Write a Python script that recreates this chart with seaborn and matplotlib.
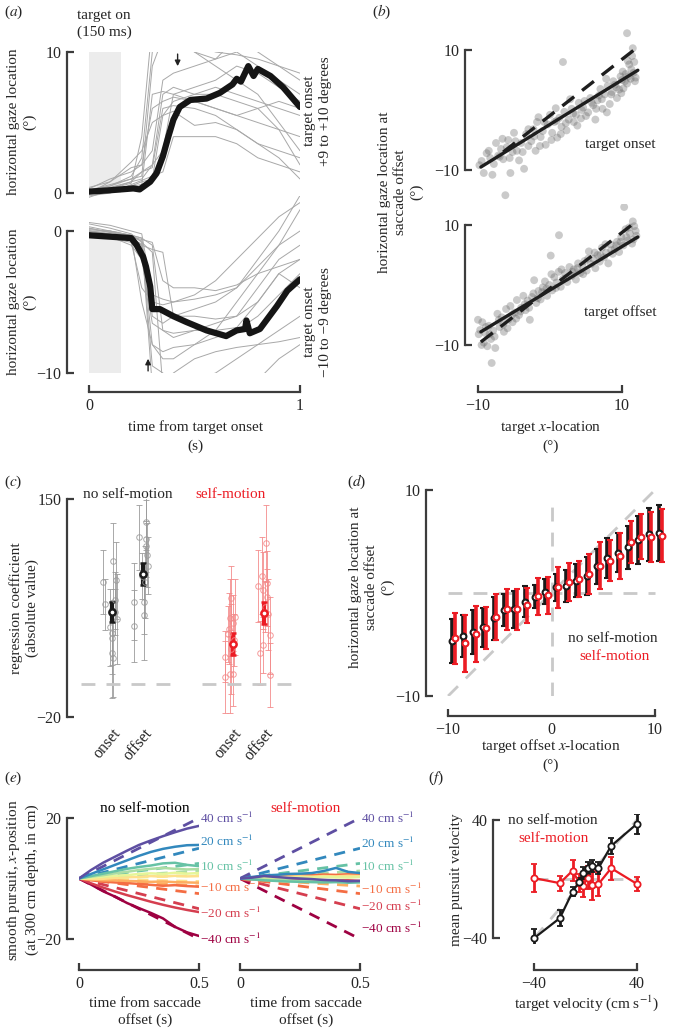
import numpy as np
import pandas as pd
import matplotlib.pyplot as plt
import seaborn as sns

sns.set_style("ticks")
plt.rcParams['font.family'] = ['Liberation Serif', 'DejaVu Serif']
plt.rcParams['mathtext.fontset'] = 'stix'
plt.rcParams['font.size'] = 11

# ---------------- data ----------------
# (a) gaze traces, times in s
t_grid = [0, 0.1, 0.2, 0.25, 0.3, 0.35, 0.4, 0.5, 0.6, 0.7, 0.8, 0.9, 1.0]
up_traces = [
    [0.2, 0.5, 1.0, 1.2, 9, 11, 11, 10, 9, 8, 7, 5, 3],
    [0, 0.3, 0.8, 1.5, 2, 7, 7.5, 7, 7, 6.5, 6, 4.5, 2],
    [-0.3, 0.2, 0.5, 0.8, 1, 5.5, 5.8, 4.8, 5, 4.5, 3.5, 2.5, 1],
    [0.3, 1, 1.5, 2, 6, 6.5, 6.8, 6.5, 6, 5.5, 6, 6.5, 6],
    [0, 0.4, 0.8, 1, 2, 3, 7, 7.5, 8, 9, 8.5, 7.5, 6.5],
    [0.1, 0.5, 1.2, 2.5, 10, 12, 11, 10, 9.5, 10, 9, 8, 7],
    [-0.2, 0, 0.6, 0.9, 1.2, 1.5, 4, 4, 4, 3.5, 2.5, 2, 1.5],
    [0.4, 0.8, 1.8, 2, 3, 8, 8.5, 9, 9.5, 11, 10, 9, 8],
    [0, 0.2, 0.5, 0.6, 7, 7.2, 7, 6.5, 6, 5.5, 5, 4.5, 4],
    [0.2, 0.6, 1, 1.5, 1.8, 6, 6.2, 6, 5.5, 4.5, 3.5, 3, 2.5],
    [0, 0.8, 2.2, 3, 5, 5.5, 6.5, 7, 7.5, 7, 6.5, 6, 5.5],
    [0.1, 0.3, 0.7, 4, 12, 12, 11, 10.5, 10, 9.8, 9.5, 9, 8.5],
]
lo_traces = [
    [0, -0.2, -0.5, -1, -8, -9, -9, -8, -7, -5, -3, -1, 1.5],
    [0.3, 0, -0.3, -0.5, -6, -6.5, -6, -5.5, -5, -4, -2, 0, 2.5],
    [0.5, 0.2, -0.2, -0.8, -1.5, -11, -11, -10.5, -10, -9, -8, -7, -6],
    [-0.2, -0.5, -0.8, -4, -5, -5.2, -5, -4.8, -4.5, -4, -2.5, -1, 0],
    [0, 0, -0.3, -0.5, -1, -7, -7.5, -7, -6.5, -6, -4, -2, -1],
    [0.2, -0.1, -0.4, -0.7, -11, -11, -10, -9, -8.5, -8.2, -8, -7.8, -7.5],
    [0, -0.3, -0.7, -1, -1.3, -1.5, -6, -6, -6.2, -6, -5, -3, -2],
    [0.6, 0.4, 0, -0.2, -4.5, -4.8, -5, -4.5, -3.5, -2, -0.5, 1, 2],
    [0, -0.2, -0.6, -0.9, -9.5, -10, -11, -11, -11, -11, -10.5, -9, -8],
    [-0.1, -0.4, -1, -2, -6.5, -7, -7.2, -7, -7, -6.8, -5, -3, -4],
    [0.1, 0, -0.4, -0.6, -0.8, -3.5, -4, -4, -4.2, -3.8, -3, -2.5, -2],
    [0.2, -0.1, -0.3, -5, -8, -8.5, -8.2, -8, -7.5, -7, -6, -4.5, -3],
]
mean_up_t = [0, 0.1, 0.21, 0.24, 0.29, 0.32, 0.35, 0.376, 0.4, 0.43, 0.48, 0.557, 0.62,
             0.68, 0.7, 0.72, 0.755, 0.78, 0.8, 0.86, 0.92, 1.0]
mean_up_y = [0.1, 0.2, 0.33, 0.26, 0.8, 1.4, 2.6, 4.0, 5.2, 6.1, 6.6, 6.7, 7.1,
             7.7, 8.1, 7.9, 9.0, 8.3, 8.8, 8.3, 7.5, 6.1]
mean_lo_t = [0, 0.1, 0.2, 0.225, 0.256, 0.27, 0.29, 0.3, 0.336, 0.4, 0.46, 0.557, 0.65,
             0.7, 0.74, 0.746, 0.762, 0.81, 0.89, 0.94, 1.0]
mean_lo_y = [-0.3, -0.4, -0.5, -0.97, -1.8, -2.5, -3.9, -5.5, -5.5, -6.0, -6.4, -7.0, -7.4,
             -7.0, -6.9, -6.3, -7.2, -6.9, -5.3, -4.2, -3.4]

# (b) saccade landing vs target location
on_x = [-9.5, -9.2, -8.8, -8.5, -8.0, -7.8, -7.5, -7.2, -6.8, -6.5, -6.2, -6.0, -5.8, -5.5, -5.2,
        -5.0, -4.6, -4.3, -4.0, -3.6, -3.3, -3.0, -2.6, -2.3, -2.0, -1.6, -1.3, -1.0, -0.6, -0.3,
        0.0, 0.3, 0.6, 1.0, 1.3, 1.6, 2.0, 2.3, 2.6, 3.0, 3.3, 3.6, 4.0, 4.3, 4.6, 1.8, 5.3, 5.6,
        6.0, 6.3, 6.6, 7.0, 7.3, 7.6, 8.0, 8.3, 8.6, 9.0, 9.3, 9.6, 10.0, 10.2, 10.5, 10.7, 11.0,
        11.2, 11.4, 11.6, 11.8, 10.7, 11.5, 10.8, 9.8, 8.8, 7.8, 6.8, 4.8, 2.8, 0.8, -1.8,
        -9.8, -8.3, -7.0, -6.6, -5.6, -4.8, -3.8, -3.0, -2.2, -1.4, -0.8, 0.2, 0.9, 1.5, 2.2,
        3.2, 3.8, 4.4, 5.0, 5.8, 6.4, 7.2, 7.9, 8.5, 9.2, 9.9, 10.4, 10.9, 11.3, 11.7, 11.9, 10.1]
on_y = [-8.5, -10.5, -7.2, -6.8, -10.8, -9.0, -5.5, -7.6, -6.5, -8.2, -14.2, -6.2, -5.0, -10.5,
        -7.0, -3.8, -6.8, -8.4, -5.5, -9.8, -4.0, -6.0, -5.2, -3.2, -6.8, -1.2, -4.5, -3.5, -5.8,
        -2.4, -0.8, -3.8, -2.0, -4.6, -1.3, -2.8, -0.3, -3.4, -1.6, 0.2, -2.0, -0.8, 1.2, -1.4,
        0.4, 8.0, -0.4, 2.0, 0.8, -1.6, 1.6, 3.5, 0.2, 2.6, 4.0, 1.0, 3.0, 4.2, 2.0, 3.4, 5.0,
        3.6, 6.0, 4.4, 7.6, 5.2, 9.0, 6.2, 4.8, 12.8, 10.3, 8.2, 5.6, 4.8, 5.2, 2.4, 1.5, 1.8,
        0.3, -2.0,
        -9.2, -8.0, -7.8, -4.8, -8.0, -5.2, -7.0, -3.2, -4.4, -6.0, -2.0, -5.0, -1.8, -4.0, -2.2,
        -0.6, -2.6, 0.0, -1.0, 1.2, 0.2, 1.8, -0.4, 2.6, 3.8, 2.8, 4.8, 5.6, 6.8, 8.0, 5.4, 6.4]
off_x = [-10.0, -9.7, -9.4, -9.2, -9.0, -8.7, -8.5, -8.2, -8.1, -7.9, -7.6, -7.3, -7.0, -6.7,
         -6.4, -6.1, -5.8, -5.5, -5.2, -4.9, -4.6, -4.3, -4.0, -3.7, -3.4, -3.1, -2.8, -2.5, -2.2,
         -1.9, -1.6, -1.3, -1.0, -0.7, -0.4, -0.1, 0.1, 0.3, 0.6, 0.9, 1.25, 1.2, 1.5, 1.8, 2.1,
         2.4, 2.7, 3.0, 3.3, 3.6, 3.9, 4.2, 4.5, 4.8, 5.1, 5.4, 5.7, 6.0, 6.3, 6.6, 6.9, 7.2, 7.5,
         7.8, 8.1, 8.4, 8.7, 9.0, 9.3, 9.6, 9.9, 10.2, 10.3, 10.5, 10.8, 11.1, 11.4, 11.7, 12.0, 11.5,
         -9.9, -9.5, -8.9, -8.4, -7.7, -7.1, -6.5, -5.9, -5.3, -4.7, -4.1, -3.5, -2.9, -2.3, -1.7,
         -1.1, -0.5, 0.2, 0.8, 1.6, 2.3, 3.1, 3.8, 4.6, 5.3, 6.2, 7.0, 7.7, 8.5, 9.2, 9.8, 10.6,
         11.0, 11.6, 11.9]
off_y = [-5.8, -7.5, -6.2, -9.6, -8.0, -10.2, -6.8, -9.0, -13.0, -7.6, -10.5, -4.8, -7.0, -5.4,
         -7.8, -4.0, -5.8, -3.5, -6.2, -4.6, -2.5, -5.0, -3.8, -1.8, -4.2, -2.6, -5.8, -2.0, 0.8,
         -3.0, -1.0, -2.4, -0.4, 0.6, -1.8, 0.0, 4.9, -0.9, 1.3, 0.4, 8.3, 2.2, -0.3, 1.0, 2.0,
         0.5, 3.0, 1.5, 2.6, 0.9, 3.6, 2.0, 3.2, 4.0, 2.4, 5.6, 3.5, 4.4, 2.8, 5.0, 3.9, 6.2, 4.6,
         5.4, 3.6, 6.8, 5.2, 6.0, 7.2, 5.5, 8.0, 6.6, 13.0, 9.3, 7.4, 8.6, 6.9, 9.8, 8.2, 10.6,
         -8.2, -10.0, -7.0, -8.2, -8.6, -5.8, -6.6, -7.2, -5.0, -5.6, -4.4, -3.2, -3.8, -1.4, -2.2,
         -1.2, -0.6, 1.8, -0.5, 2.6, 1.2, 2.2, 2.8, 1.8, 4.4, 5.4, 5.0, 6.8, 5.8, 6.6, 7.2, 8.0,
         9.6, 7.6, 9.0]
# fit lines: (slope, intercept, x start, x end)
on_fit = (0.74, -2.4, -9.6, 12.2)
on_dash = (0.936, -0.92, -6.5, 12.2)
off_fit = (0.725, -0.84, -9.6, 12.2)
off_dash = (0.931, -0.56, -9.6, 12.2)

# (c) regression coefficients per subject: (jitter, value, error)
c_pos = [0, 1, 3.9, 4.9]
c_labels = ['onset', 'offset', 'onset', 'offset']
c_subj = [
    [(-0.28, 85.5, 25), (-0.22, 68, 20), (0.02, 101.6, 30), (0.13, 86.8, 30), (0.1, 71, 22),
     (0.17, 56.4, 35), (-0.01, 45.5, 25), (0.0, 41.6, 28), (0.01, 30, 35), (0.02, 25.8, 30),
     (0.08, 62, 18), (-0.05, 50, 30)],
    [(-0.12, 120, 25), (0.08, 132, 22), (0.08, 119, 30), (0.17, 98, 22), (0.12, 106, 25),
     (-0.28, 70, 30), (-0.28, 51, 28), (0.04, 70, 25), (0.04, 59.5, 35), (0.06, 85, 28),
     (0.1, 113, 20), (-0.02, 90, 18)],
    [(-0.07, 72.6, 25), (-0.1, 57.4, 30), (0.0, 53.5, 22), (-0.26, 27, 20), (-0.26, 11.4, 28),
     (-0.1, 13.5, 30), (0.01, 13.5, 25), (-0.17, 44.7, 22), (0.03, 40, 20), (-0.05, 33, 35),
     (0.05, 58, 30), (-0.12, 49, 28)],
    [(0.06, 115.4, 30), (-0.04, 79, 30), (-0.18, 82, 28), (0.1, 84.7, 25), (0.08, 73.3, 22),
     (0.19, 43.9, 30), (-0.13, 30.1, 25), (-0.04, 36.1, 22), (0.19, 12.8, 25), (0.12, 60, 28),
     (-0.08, 90, 30), (0.02, 66, 20)],
]
c_mean = [62, 91.5, 37, 61]
c_err = [8, 8.5, 8.5, 8.5]
c_chance = 6

# (d) binned gaze location
d_bins = [-9.6, -8.6, -7.6, -6.6, -5.6, -4.6, -3.6, -2.6, -1.6, -0.6, 0.4,
          1.4, 2.4, 3.4, 4.4, 5.4, 6.4, 7.4, 8.4, 9.4, 10.4]
d_black = [-4.63, -4.17, -3.79, -3.33, -2.46, -1.65, -1.59, -0.84, -0.36, 0.13, 0.55,
           0.71, 1.2, 1.65, 2.62, 3.43, 3.92, 4.43, 5.15, 5.7, 5.8]
d_black_err = [2.15, 2.02, 2.14, 1.9, 2.07, 1.59, 1.83, 1.49, 1.13, 1.23, 1.29,
               1.54, 1.62, 1.83, 1.7, 1.93, 1.89, 2.07, 2.3, 2.56, 2.7]
d_red = [-4.4, -4.89, -4.01, -3.37, -2.36, -1.59, -1.59, -1.2, -0.32, -0.23, 0.55,
         1.04, 1.36, 1.84, 2.65, 3.14, 3.62, 4.98, 5.47, 5.47, 5.57]
d_red_err = [2.49, 2.8, 2.7, 2.05, 2.23, 1.97, 1.97, 1.67, 1.78, 1.78, 2.02,
             1.86, 1.73, 1.94, 2.27, 2.02, 2.22, 2.02, 2.18, 2.43, 2.59]

# (e) smooth pursuit traces
e_t = [0, 0.05, 0.1, 0.15, 0.2, 0.25, 0.3, 0.35, 0.4, 0.45, 0.5]
velocities = [-40, -20, -10, -5, -2, 2, 5, 10, 20, 40]
vel_colors = ['#9e0142', '#d53e4f', '#f46d43', '#fdae61', '#fee08b',
              '#e6f598', '#abdda4', '#66c2a5', '#3288bd', '#5e4fa2']
target_end = [-20, -10, -5, -2.5, -1, 1, 2.5, 5, 10, 20]
e_still = [
    [0, -2.0, -4.2, -6.0, -8.1, -9.8, -11.4, -13.2, -16.0, -17.8, -19.0],
    [0, -1.6, -3.0, -4.3, -5.5, -6.6, -7.7, -8.7, -9.6, -10.4, -11.1],
    [0, -0.6, -1.0, -1.3, -1.5, -1.8, -2.1, -2.4, -2.2, -2.5, -2.7],
    [0, -0.3, -0.6, -0.6, -0.8, -0.9, -1.1, -1.0, -1.2, -1.3, -1.4],
    [0, -0.2, -0.1, 0.2, 0.4, 0.5, 0.8, 0.6, 0.9, 0.7, 0.8],
    [0, 0.3, 0.6, 0.9, 1.1, 1.5, 1.7, 1.5, 1.9, 1.6, 1.8],
    [0, 0.6, 1.1, 1.7, 2.2, 2.8, 3.2, 3.5, 3.2, 3.0, 3.1],
    [0, 0.8, 1.6, 2.4, 3.2, 3.8, 4.3, 5.0, 5.2, 4.5, 4.1],
    [0, 1.5, 3.0, 4.5, 6.0, 7.5, 8.8, 9.8, 10.5, 11.0, 11.1],
    [0, 2.8, 5.2, 7.2, 9.2, 11.1, 12.6, 14.0, 15.3, 16.5, 17.4],
]
e_moving = [
    [0, -0.2, -0.3, -0.5, -0.4, -0.6, -0.7, -0.8, -0.7, -0.9, -1.0],
    [0, -0.1, -0.2, -0.4, -0.3, -0.5, -0.6, -0.5, -0.7, -0.6, -0.8],
    [0, 0.2, 0.4, 0.6, 0.8, 1.0, 1.1, 1.3, 1.2, 1.4, 1.3],
    [0, 0.1, 0.2, 0.3, 0.3, 0.4, 0.5, 0.6, 0.5, 0.7, 0.6],
    [0, 0.2, 0.3, 0.5, 0.6, 0.7, 0.6, 0.8, 0.7, 0.9, 0.8],
    [0, 0.1, 0.2, 0.3, 0.2, 0.4, 0.3, 0.5, 0.4, 0.3, 0.5],
    [0, -0.2, -0.4, -0.5, -0.6, -0.8, -0.7, -0.9, -0.8, -1.0, -0.9],
    [0, -0.3, -0.6, -0.8, -1.0, -1.1, -1.2, -1.3, -1.2, -1.4, -1.3],
    [0, 0.5, 1.0, 1.2, 1.5, 1.6, 1.8, 2.5, 3.5, 2.2, 1.8],
    [0, 0.3, 0.8, 0.5, 0.2, 0.0, -0.2, -0.5, -0.6, -0.9, -0.8],
]
lab_vel = [40, 20, 10, -10, -20, -40]
lab_idx = [9, 8, 7, 2, 1, 0]
lab_y_still = [20, 12.1, 4.1, -3.1, -11.7, -20.3]
lab_y_moving = [19.7, 11.7, 4.1, -3.5, -9.4, -16.4]

# (f) mean pursuit velocity
f_black = [-40, -26.5, -8.5, -2, 3.9, 7.3, 9, 7.3, 22.4, 37.3]
f_black_err = [5.9, 5.3, 3, 3, 4, 4, 4, 4, 5.3, 7]
f_red = [0.6, -2.8, 5.7, -2.5, -4.5, 1, -4, -3.5, 7.3, -3.3]
f_red_err = [9.7, 5, 7, 6, 8, 8, 10, 8, 7.7, 4.7]

# ---------------- figure ----------------
W, H = 674, 1029
fig = plt.figure(figsize=(W / 100, H / 100), dpi=100)
SP = '#3c3c3c'
RED = '#ec1c24'
GRID = '#c9c9c9'
pal = vel_colors


def add_ax(x0, x1, y0, y1):
    return fig.add_axes([x0 / W, 1 - y1 / H, (x1 - x0) / W, (y1 - y0) / H])


def ftext(x, y, s, **kw):
    kw.setdefault('ha', 'center')
    kw.setdefault('va', 'center')
    fig.text(x / W, 1 - y / H, s, **kw)


def style(ax, xb=None, xt=None, xout=0, yb=None, yt=None, yout=0):
    ax.set_facecolor('none')
    ax.spines['top'].set_visible(False)
    ax.spines['right'].set_visible(False)
    if yb is None:
        ax.spines['left'].set_visible(False)
        ax.set_yticks([])
    else:
        ax.spines['left'].set_bounds(*yb)
        ax.spines['left'].set_position(('outward', yout * 0.72))
        ax.set_yticks(yt)
    if xb is None:
        ax.spines['bottom'].set_visible(False)
        ax.set_xticks([])
    else:
        ax.spines['bottom'].set_bounds(*xb)
        ax.spines['bottom'].set_position(('outward', xout * 0.72))
        ax.set_xticks(xt)
    for s in ['left', 'bottom']:
        ax.spines[s].set_color(SP)
        ax.spines[s].set_linewidth(1.6)
    ax.tick_params(direction='in', length=5, width=1.6, color=SP, labelsize=11.5, pad=4)
    ax.set_xlabel('')
    ax.set_ylabel('')


# ---- (a)
for k, (traces, mt, my, box, ylim) in enumerate([
        (up_traces, mean_up_t, mean_up_y, (52, 210), (-1.2, 10)),
        (lo_traces, mean_lo_t, mean_lo_y, (195.5, 373), (-10, 2.5))]):
    ax = add_ax(89, 300, box[0], box[1])
    if k == 0:
        ax.fill_between([0, 0.15], 0, 10, color='#ececec', lw=0)
    else:
        ax.fill_between([0, 0.15], -10, 0, color='#ececec', lw=0)
    df = pd.DataFrame([(i, t, v) for i, tr in enumerate(traces) for t, v in zip(t_grid, tr)],
                      columns=['trial', 't', 'y'])
    sns.lineplot(data=df, x='t', y='y', units='trial', estimator=None, color='#a8a8a8',
                 lw=0.7, ax=ax)
    sns.lineplot(x=mt, y=my, color='#151515', lw=4.5, ax=ax)
    ax.set_xlim(0, 1)
    ax.set_ylim(*ylim)
    if k == 0:
        style(ax, yb=(0, 10), yt=[0, 10], yout=22)
        ax.annotate('', xy=(0.42, 8.8), xytext=(0.42, 10.05), annotation_clip=False,
                    arrowprops=dict(arrowstyle='-|>', color='#222', lw=1, mutation_scale=8))
    else:
        style(ax, xb=(0, 1), xt=[0, 1], xout=19, yb=(-10, 0), yt=[-10, 0], yout=22)
        ax.annotate('', xy=(0.28, -8.8), xytext=(0.28, -10.05), annotation_clip=False,
                    arrowprops=dict(arrowstyle='-|>', color='#222', lw=1, mutation_scale=8))

ftext(104, 24, 'target on\n(150 ms)', linespacing=1.3)
ftext(22, 122, 'horizontal gaze location\n(°)', rotation=90, linespacing=1.3)
ftext(22, 302, 'horizontal gaze location\n(°)', rotation=90, linespacing=1.3)
ftext(318, 111, 'target onset\n+9 to +10 degrees', rotation=90, linespacing=1.3)
ftext(318, 322, 'target onset\n\u221210 to \u22129 degrees', rotation=90, linespacing=1.3)
ftext(195, 427, 'time from target onset')
ftext(195, 446, '(s)')

# ---- (b)
for k, (xs, ys, fit, dash, top, lab, ly) in enumerate([
        (on_x, on_y, on_fit, on_dash, 29, 'target onset', 144),
        (off_x, off_y, off_fit, off_dash, 204, 'target offset', 312)]):
    ax = add_ax(470.8, 643.6, top, top + 171)
    sns.scatterplot(x=xs, y=ys, s=32, color='#606060', alpha=0.33, edgecolor='none', ax=ax)
    for sl, ic, x0, x1 in [fit]:
        ax.plot([x0, x1], [sl * x0 + ic, sl * x1 + ic], color='#1e1e1e', lw=2.4)
    for sl, ic, x0, x1 in [dash]:
        ax.plot([x0, x1], [sl * x0 + ic, sl * x1 + ic], color='#1e1e1e', lw=2.4,
                dashes=(4.5, 3))
    ax.set_xlim(-11, 13)
    ax.set_ylim(-15, 13.5)
    if k == 0:
        style(ax, yb=(-10, 10), yt=[-10, 10], yout=6)
    else:
        style(ax, xb=(-10, 10), xt=[-10, 10], xout=17, yb=(-10, 10), yt=[-10, 10], yout=6)
    ftext(620, ly, lab)

ftext(401, 192, 'horizontal gaze location at\nsaccade offset\n(°)', rotation=90,
      linespacing=1.3)
ftext(551, 427, 'target $x$-location')
ftext(551, 446, '(°)')

# ---- (c)
ax = add_ax(81, 296.6, 499, 717)
for g, subj in enumerate(c_subj):
    col = '#9a9a9a' if g < 2 else '#f38a8a'
    xs = [c_pos[g] + s[0] for s in subj]
    ax.errorbar(xs, [s[1] for s in subj], yerr=[s[2] for s in subj], fmt='o', ms=4,
                mfc='none', mec=col, mew=0.7, ecolor=col, elinewidth=0.7, capsize=2,
                capthick=0.7, alpha=0.85)
for g in range(4):
    col = '#1a1a1a' if g < 2 else RED
    ax.errorbar([c_pos[g]], [c_mean[g]], yerr=[c_err[g]], fmt='o', ms=4.5, mfc='white',
                mec=col, mew=1.8, ecolor=col, elinewidth=3, capsize=2.5, capthick=2)
ax.plot([-1, 1.94], [c_chance, c_chance], color=GRID, lw=2, dashes=(5, 4))
ax.plot([2.9, 5.9], [c_chance, c_chance], color=GRID, lw=2, dashes=(5, 4))
ax.set_xlim(-1, 5.95)
ax.set_ylim(-20, 150)
style(ax, yb=(-20, 150), yt=[-20, 150], yout=14)
ax.set_xticks(c_pos)
ax.set_xticklabels(c_labels, rotation=50, ha='right', va='top', rotation_mode='anchor')
ax.tick_params(axis='x', length=0, pad=6)
ftext(128, 494, 'no self-motion')
ftext(231, 494, 'self-motion', color=RED)
ftext(24, 608, 'regression coefficient\n(absolute value)', rotation=90, linespacing=1.3)

# ---- (d)
ax = add_ax(445, 667.4, 490, 696)
ax.plot([-10, 10], [-10, 10], color=GRID, lw=2, dashes=(5, 4))
ax.plot([0, 0], [-10, 9.3], color=GRID, lw=2, dashes=(5, 4))
ax.plot([-10, 10], [0, 0], color=GRID, lw=2, dashes=(5, 4))
ax.errorbar(d_bins, d_black, yerr=d_black_err, fmt='o', ms=4.2, mfc='white', mec='#1a1a1a',
            mew=1.5, ecolor='#1a1a1a', elinewidth=2.6, capsize=2.5, capthick=1.8)
ax.errorbar([b + 0.25 for b in d_bins], d_red, yerr=d_red_err, fmt='o', ms=4.2, mfc='white',
            mec=RED, mew=1.5, ecolor=RED, elinewidth=2.6, capsize=2.5, capthick=1.8)
ax.set_xlim(-10.3, 11.2)
ax.set_ylim(-10, 10)
style(ax, xb=(-10, 10), xt=[-10, 0, 10], xout=20, yb=(-10, 10), yt=[-10, 10], yout=19)
ax.xaxis.get_major_ticks()[1].tick1line.set_visible(False)
ftext(613, 638, 'no self-motion')
ftext(615, 656, 'self-motion', color=RED)
ftext(372, 587, 'horizontal gaze location at\nsaccade offset\n(°)', rotation=90,
      linespacing=1.3)
ftext(551, 746, 'target offset $x$-location')
ftext(551, 765, '(°)')

# ---- (e)
for k, (traces, x0, labs, title, tcol) in enumerate([
        (e_still, 79, lab_y_still, 'no self-motion', 'black'),
        (e_moving, 240, lab_y_moving, 'self-motion', RED)]):
    ax = add_ax(x0, x0 + 120, 815, 942)
    for i in range(len(velocities)):
        ax.plot([0, 0.5], [0, target_end[i]], color=pal[i], lw=2, dashes=(4, 3))
    df = pd.DataFrame([(velocities[i], t, v) for i, tr in enumerate(traces)
                       for t, v in zip(e_t, tr)], columns=['v', 't', 'y'])
    sns.lineplot(data=df, x='t', y='y', hue='v', palette=pal, lw=1.8, legend=False, ax=ax)
    for v, i, ly in zip(lab_vel, lab_idx, labs):
        vs = str(v).replace('-', '\u2212')
        ax.text(0.505, ly, vs + ' cm s$^{-1}$', color=pal[i], fontsize=9.5, va='center',
                ha='left', clip_on=False)
    ax.set_xlim(0, 0.5)
    ax.set_ylim(-21, 21)
    if k == 0:
        style(ax, xb=(0, 0.5), xt=[0, 0.5], xout=28, yb=(-20, 20), yt=[-20, 20], yout=12)
    else:
        style(ax, xb=(0, 0.5), xt=[0, 0.5], xout=28)
    ax.set_xticklabels(['0', '0.5'])
    ftext(x0 + 66, 808, title, color=tcol)
    ftext(x0 + 66, 1012, 'time from saccade\noffset (s)', linespacing=1.3)
ftext(22, 880, 'smooth pursuit, $x$-position\n(at 300 cm depth, in cm)', rotation=90,
      linespacing=1.3)

# ---- (f)
ax = add_ax(529, 642, 814, 944)
ax.plot([-40, 40], [-40, 40], color=GRID, lw=2, dashes=(5, 4))
ax.plot([-40, 40], [0, 0], color=GRID, lw=2, dashes=(5, 4))
ax.errorbar(velocities, f_red, yerr=f_red_err, fmt='-o', color=RED, lw=1.6, ms=4.5,
            mfc='white', mew=1.3, elinewidth=2, capsize=2.5, capthick=1.6)
ax.errorbar(velocities, f_black, yerr=f_black_err, fmt='-o', color='#1a1a1a', lw=1.6, ms=4.5,
            mfc='white', mew=1.3, elinewidth=2, capsize=2.5, capthick=1.6)
ax.set_xlim(-44, 44)
ax.set_ylim(-44, 44)
style(ax, xb=(-40, 40), xt=[-40, 40], xout=26, yb=(-40, 40), yt=[-40, 40], yout=36)
ftext(508, 820, 'no self-motion', ha='left')
ftext(518, 838, 'self-motion', ha='left', color=RED)
ftext(456, 880, 'mean pursuit velocity', rotation=90)
ftext(587, 1003, 'target velocity (cm s$^{-1}$)')

# panel letters
for lab, x, y in [('a', 4, 12), ('b', 372, 12), ('c', 4, 482), ('d', 347, 482),
                  ('e', 4, 778), ('f', 428, 778)]:
    ftext(x, y, '($\\it{' + lab + '}$)', ha='left')

fig.savefig('out.png', dpi=100)
